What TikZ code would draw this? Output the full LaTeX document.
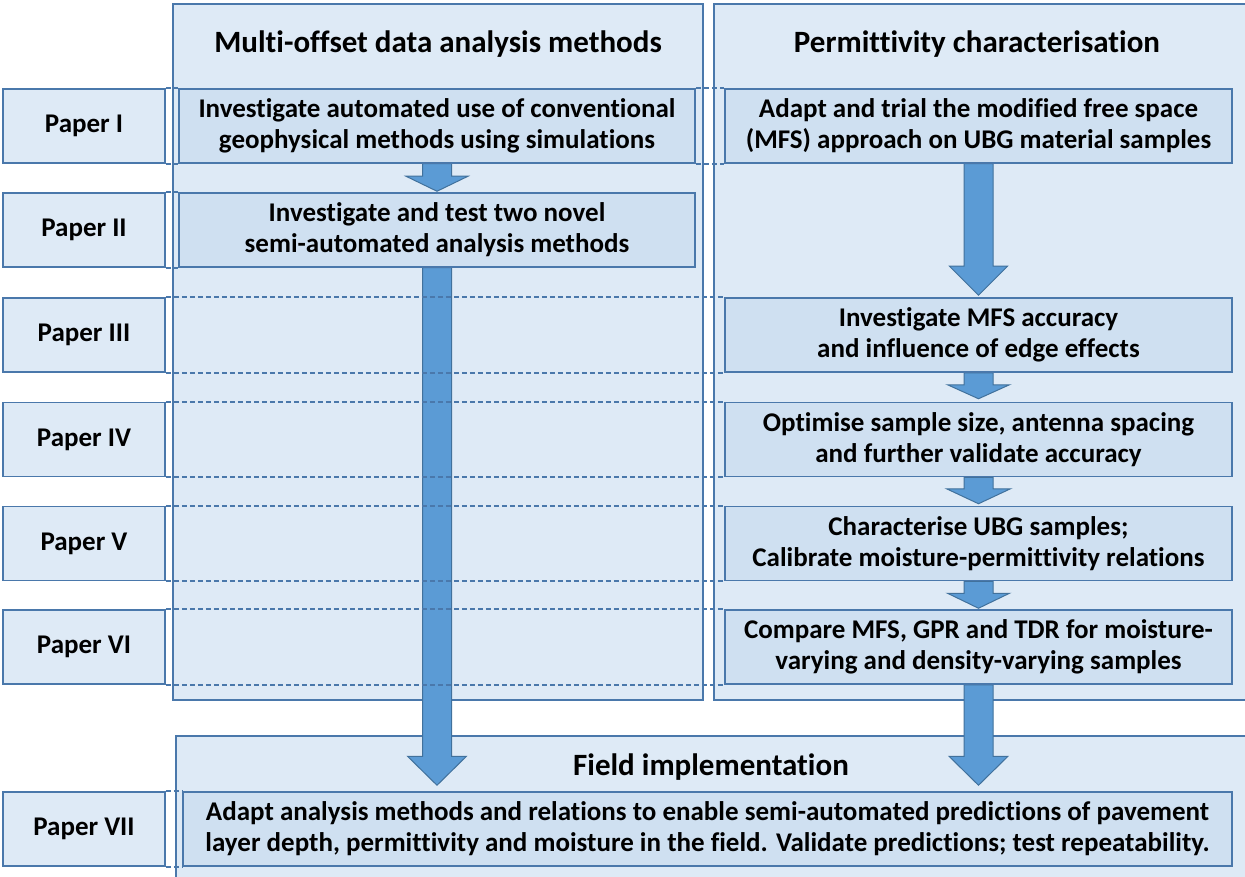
\documentclass[tikz,border=0pt]{standalone}
\usepackage{fontspec}
\setmainfont{Carlito}[Ligatures=NoCommon]
\usetikzlibrary{calc}

\definecolor{panel}{HTML}{DEEAF6}
\definecolor{cell}{HTML}{CFE0F1}
\definecolor{edge}{HTML}{4A78AB}
\definecolor{arrfill}{HTML}{5B9BD5}
\definecolor{arredge}{HTML}{41719C}

\pgfdeclarelayer{panels}
\pgfdeclarelayer{arrows}
\pgfsetlayers{panels,arrows,main}

\tikzset{
  panelbox/.style={draw=edge, fill=panel, line width=1.5pt, inner sep=0pt},
  labelbox/.style={draw=edge, fill=panel, line width=1.5pt, inner sep=0pt,
    minimum width=162pt, minimum height=74pt,
    font=\bfseries\fontsize{27}{31}\selectfont},
  taskbox/.style={draw=edge, fill=cell, line width=1.5pt, inner sep=0pt,
    minimum height=74pt, align=center,
    font=\bfseries\fontsize{27}{31}\selectfont},
  heading/.style={inner sep=0pt, font=\bfseries\fontsize{31}{36}\selectfont},
  rowline/.style={draw=edge, line width=1.6pt, dash pattern=on 5pt off 3pt},
  blockarrow/.style={fill=arrfill, draw=arredge, line width=1pt, line join=miter},
}

% vertical block arrow: start, tip, half shaft width, half head width, head length
\newcommand\flowarrow[5]{%
  \path[blockarrow] let \p1=#1, \p2=#2 in
    (\x1-#3,\y1) -- (\x1+#3,\y1) -- (\x1+#3,\y2+#5) -- (\x1+#4,\y2+#5)
    -- (\x1,\y2) -- (\x1-#4,\y2+#5) -- (\x1-#3,\y2+#5) -- cycle;}

\begin{document}
\begin{tikzpicture}[x=1pt, y=-1pt]
\useasboundingbox (0,0) rectangle (1245,877);

% white page, column panels and the field panel
\begin{pgfonlayer}{panels}
  \fill[white] (0,0) rectangle (1245,877);
  \node[panelbox, minimum width=530pt, minimum height=696pt] (colL) at (438,352) {};
  \node[panelbox, minimum width=536pt, minimum height=696pt] (colR) at (982,352) {};
  \node[panelbox, minimum width=1074pt, minimum height=146pt] (field) at (713,809) {};
\end{pgfonlayer}

\node[heading] (tL) at (438,44) {Multi-offset data analysis methods};
\node[heading] (tR) at (977,44) {Permittivity characterisation};
\node[heading] (tF) at (711,767) {Field implementation};

% paper labels
\node[labelbox] (p1) at (84,126) {Paper I};
\node[labelbox] (p2) at (84,230) {Paper II};
\node[labelbox] (p3) at (84,335) {Paper III};
\node[labelbox] (p4) at (84,439.5) {Paper IV};
\node[labelbox] (p5) at (84,543.5) {Paper V};
\node[labelbox] (p6) at (84,647) {Paper VI};
\node[labelbox] (p7) at (84,829) {Paper VII};

% tasks
\node[taskbox, minimum width=516pt] (cL1) at (437,126)
  {Investigate automated use of conventional\\geophysical methods using simulations};
\node[taskbox, minimum width=507pt] (cR1) at (978.5,126)
  {Adapt and trial the modified free space\\(MFS) approach on UBG material samples};
\node[taskbox, minimum width=516pt] (cL2) at (437,230)
  {Investigate and test two novel\\semi-automated analysis methods};
\node[taskbox, minimum width=507pt] (cR3) at (978.5,335)
  {Investigate MFS accuracy\\and influence of edge effects};
\node[taskbox, minimum width=507pt] (cR4) at (978.5,439.5)
  {Optimise sample size, antenna spacing\\and further validate accuracy};
\node[taskbox, minimum width=507pt] (cR5) at (978.5,543.5)
  {Characterise UBG samples;\\Calibrate moisture-permittivity relations};
\node[taskbox, minimum width=507pt] (cR6) at (978.5,647)
  {Compare MFS, GPR and TDR for moisture-\\varying and density-varying samples};
\node[taskbox, minimum width=1049pt] (c7) at (707.5,829)
  {Adapt analysis methods and relations to enable semi-automated predictions of pavement\\layer depth, permittivity and moisture in the field. Validate predictions; test repeatability.};

% row guide lines
\foreach \a/\b in {p1/cL1, cL1/cR1, p2/cL2, p3/cR3, p4/cR4, p5/cR5, p6/cR6, p7/c7}{
  \draw[rowline] (\a.north east) -- (\b.north west);
  \draw[rowline] (\a.south east) -- (\b.south west);
}

% flow arrows
\begin{pgfonlayer}{arrows}
  \flowarrow{(cL1.south)}{([yshift=1pt]cL2.north)}{14.5pt}{31pt}{15pt}
  \flowarrow{(cL2.south)}{([yshift=6pt]c7.north)}{14.5pt}{29.5pt}{29pt}
  \flowarrow{(cR1.south)}{([yshift=2pt]cR3.north)}{14.5pt}{29pt}{29pt}
  \flowarrow{(cR3.south)}{([yshift=3pt]cR4.north)}{14.5pt}{31pt}{14pt}
  \flowarrow{(cR4.south)}{([yshift=2pt]cR5.north)}{14.5pt}{32pt}{15pt}
  \flowarrow{(cR5.south)}{([yshift=1pt]cR6.north)}{14.5pt}{31pt}{15pt}
  \flowarrow{(cR6.south)}{([yshift=6pt]c7.north)}{14.5pt}{29.5pt}{29pt}
\end{pgfonlayer}
\end{tikzpicture}
\end{document}
